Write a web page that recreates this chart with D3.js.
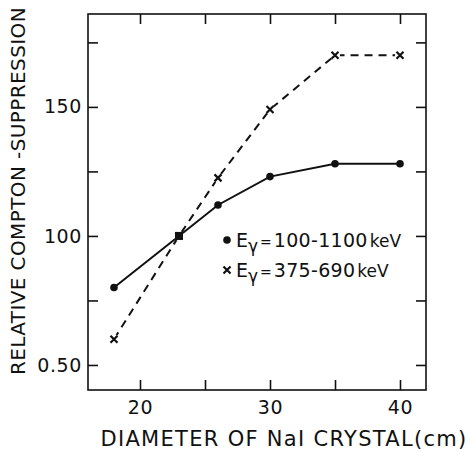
<!DOCTYPE html>
<html>
<head>
<meta charset="utf-8">
<script src="https://cdn.jsdelivr.net/npm/d3@7"></script>
<style>
  body { margin: 0; background: #fff; }
  text { font-family: "DejaVu Sans", sans-serif; fill: #111; }
</style>
</head>
<body>
<div id="chart"></div>
<script>
// diameter of NaI crystal (cm)
const diameters = [18, 23, 26, 30, 35, 40];
// E_gamma = 100-1100 keV (dots, solid)
const wideBand = [80, 100, 112, 123, 128, 128];
// E_gamma = 375-690 keV (crosses, dashed)
const narrowBand = [60, 100, 122.5, 149, 170, 170];

const xTicks = [20, 25, 30, 35, 40];
const xTickLabels = {20: '20', 30: '30', 40: '40'};
const yTicks = [50, 75, 100, 125, 150, 175];
const yTickLabels = {50: '0.50', 100: '100', 150: '150'};

const W = 471, H = 451;
const plotLeft = 88, plotRight = 426, plotTop = 14, plotBottom = 390;

const svg = d3.select('#chart').append('svg')
    .attr('width', W)
    .attr('height', H);

let x = d3.scaleLinear().domain([16, 42]).range([plotLeft, plotRight]);
let y = d3.scaleLinear().domain([40.3, 186]).range([plotBottom, plotTop]);

// frame
svg.append('rect')
    .attr('x', plotLeft).attr('y', plotTop)
    .attr('width', plotRight - plotLeft).attr('height', plotBottom - plotTop)
    .attr('fill', 'none').attr('stroke', '#111').attr('stroke-width', 1.6);

// axes, ticks pointing inward
const axisStyle = g => {
    g.select('.domain').remove();
    g.selectAll('.tick line').attr('stroke', '#111').attr('stroke-width', 1.6);
    g.selectAll('.tick text').style('font-size', '19px').style('letter-spacing', '0.6px').attr('fill', '#111');
};

svg.append('g').attr('transform', `translate(${plotLeft},0)`)
    .call(d3.axisLeft(y).tickValues(yTicks).tickSize(-10).tickPadding(6)
        .tickFormat(d => yTickLabels[d] || ''))
    .call(axisStyle);

svg.append('g').attr('transform', `translate(${plotRight},0)`)
    .call(d3.axisRight(y).tickValues(yTicks).tickSize(-10).tickFormat(''))
    .call(axisStyle);

svg.append('g').attr('transform', `translate(0,${plotBottom})`)
    .call(d3.axisBottom(x).tickValues(xTicks).tickSize(-10).tickPadding(11)
        .tickFormat(d => xTickLabels[d] || ''))
    .call(axisStyle);

svg.append('g').attr('transform', `translate(0,${plotTop})`)
    .call(d3.axisTop(x).tickValues(xTicks).tickSize(-10).tickFormat(''))
    .call(axisStyle);

// lines
let line = d3.line()
    .x(d => x(d[0]))
    .y(d => y(d[1]));

const wideData = diameters.map((d, i) => [d, wideBand[i]]);
const narrowData = diameters.map((d, i) => [d, narrowBand[i]]);

svg.append('path')
    .datum(narrowData)
    .attr('d', line)
    .attr('fill', 'none')
    .attr('stroke', '#111')
    .attr('stroke-width', 2)
    .attr('stroke-dasharray', '8,6');

svg.append('path')
    .datum(wideData)
    .attr('d', line)
    .attr('fill', 'none')
    .attr('stroke', '#111')
    .attr('stroke-width', 2);

// markers
const crossPath = 'M-3.5,-3.5L3.5,3.5M-3.5,3.5L3.5,-3.5';

function drawCross(cx, cy) {
    svg.append('path')
        .attr('d', crossPath)
        .attr('transform', `translate(${cx},${cy})`)
        .attr('stroke', '#111')
        .attr('stroke-width', 2.2)
        .attr('fill', 'none');
}

function drawDot(cx, cy) {
    svg.append('circle')
        .attr('cx', cx).attr('cy', cy)
        .attr('r', 3.8)
        .attr('fill', '#111');
}

narrowData.forEach(d => {
    // white gap round the cross like the original
    svg.append('circle').attr('cx', x(d[0])).attr('cy', y(d[1])).attr('r', 5).attr('fill', '#fff');
    drawCross(x(d[0]), y(d[1]));
});
wideData.forEach(d => drawDot(x(d[0]), y(d[1])));
// shared point at 23 cm looks like a small filled square
svg.append('rect')
    .attr('x', x(23) - 4).attr('y', y(100) - 4)
    .attr('width', 8).attr('height', 8)
    .attr('fill', '#111');

// legend
function legendEntry(ly, range, marker) {
    if (marker === 'dot') drawDot(227, ly - 7);
    else drawCross(227, ly - 7);
    let t = svg.append('text')
        .attr('x', 236).attr('y', ly)
        .style('font-size', '19px');
    t.append('tspan').text('E');
    t.append('tspan').attr('dy', 5).style('font-size', '17px').text('γ');
    t.append('tspan').attr('dy', -5).attr('dx', 2).style('font-size', '14px').text('=');
    t.append('tspan').attr('dx', 2).style('letter-spacing', '0.3px').text(range);
    t.append('tspan').attr('dx', 2).style('font-size', '17px').text('keV');
}
legendEntry(247, '100-1100', 'dot');
legendEntry(277, '375-690', 'cross');

// axis titles
svg.append('text')
    .attr('x', 284)
    .attr('y', 446)
    .attr('text-anchor', 'middle')
    .style('font-size', '21px')
    .style('letter-spacing', '1.3px')
    .text('DIAMETER OF NaI CRYSTAL(cm)');

svg.append('text')
    .attr('transform', 'translate(25,191) rotate(-90)')
    .attr('text-anchor', 'middle')
    .style('font-size', '20px')
    .style('letter-spacing', '0.4px')
    .text('RELATIVE COMPTON -SUPPRESSION');
</script>
</body>
</html>
